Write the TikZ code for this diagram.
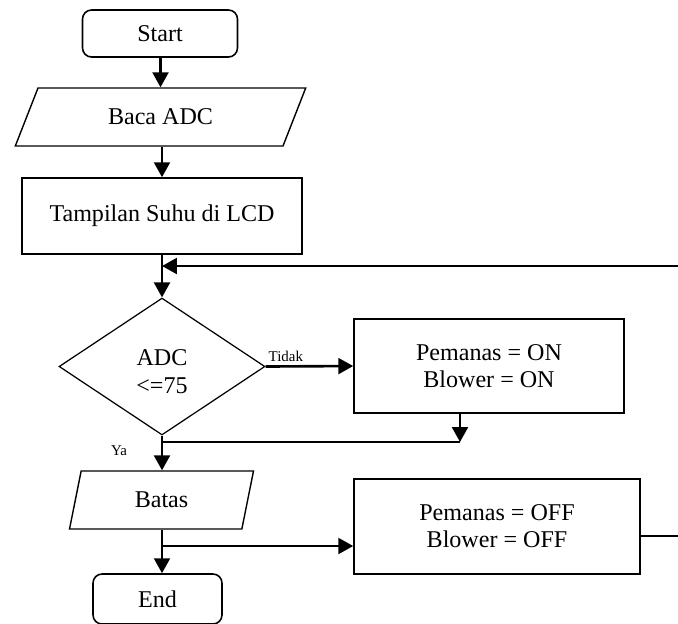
\documentclass[tikz,border=0pt]{standalone}
\usepackage{fontspec}
\setmainfont{Liberation Serif}
\usetikzlibrary{arrows.meta, positioning, shapes.geometric, calc}
\tikzset{
    flow/.style={-{Triangle[length=8.5pt,width=9pt]}, line width=1.5pt},
    link/.style={line width=1.5pt},
    terminal/.style={draw, rectangle, rounded corners=0.18cm, line width=0.9pt, inner sep=0pt},
    process/.style={draw, rectangle, line width=0.9pt, align=center, inner sep=0pt},
    io/.style={draw, trapezium, trapezium stretches=true, line width=0.8pt, inner sep=0pt},
    decision/.style={draw, diamond, line width=0.7pt, inner sep=0pt, align=center},
    every node/.append style={font=\fontsize{13.7}{15.5}\selectfont},
    small label/.style={font=\fontsize{8.5}{10}\selectfont, inner sep=1pt},
}
\begin{document}
\begin{tikzpicture}[x=0.02cm, y=-0.02cm]
    \useasboundingbox (0,0) rectangle (678,623);

    % main column
    \node[terminal, minimum width=3.1cm, minimum height=0.94cm] (start) at (160,33.5) {Start};
    \node[io, minimum width=5.82cm, minimum height=1.16cm,
          trapezium left angle=59, trapezium right angle=121] (baca) at (160.5,117) {Baca ADC};
    \node[process, minimum width=5.6cm, minimum height=1.52cm] (tampil) at (162,216) {Tampilan Suhu di LCD};
    \node[decision, minimum width=4.12cm, minimum height=2.74cm] (adc) at (162,366.5) {\rule{0pt}{15pt}ADC\\<=75};
    \node[io, minimum width=3.68cm, minimum height=1.16cm,
          trapezium left angle=76.4, trapezium right angle=103.6] (batas) at (161.5,500) {Batas};
    \node[terminal, minimum width=2.58cm, minimum height=1.0cm] (stop) at (157.5,599) {End};

    % side boxes
    \node[process, minimum width=5.4cm, minimum height=1.88cm] (on) at (489,366) {Pemanas = ON\\Blower = ON};
    \node[process, minimum width=5.72cm, minimum height=1.9cm] (off) at (497,526.5) {Pemanas = OFF\\Blower = OFF};

    \coordinate (fbR) at (680,266);
    \coordinate (onjoin) at (460,442);
    \coordinate (offjoin) at (162,546);
    \coordinate (offR) at (680,536);

    \draw[flow] (start.south -| baca.north) -- (baca.north);
    \draw[flow] (baca.south -| tampil.north) -- (tampil.north);
    \draw[flow] (tampil.south) -- (adc.north);
    \draw[flow] (fbR) -- (fbR -| adc.north);

    \draw[flow] (adc.east) -- (on.west);
    \node[small label, anchor=south west] (tidak) at ($(adc.east)+(1,-3)$) {Tidak};

    \draw[flow] (on.south -| onjoin) -- (onjoin);
    \draw[link] (onjoin) -- (onjoin -| adc.south);

    \draw[flow] (adc.south) -- (batas.north -| adc.south);
    \node[small label] (ya) at (119,451) {Ya};

    \draw[flow] (batas.south -| adc.south) -- (stop.north -| adc.south);
    \draw[flow] (offjoin) -- (offjoin -| off.west);
    \draw[line width=0.8pt] (offR -| off.east) -- (offR);
\end{tikzpicture}
\end{document}
